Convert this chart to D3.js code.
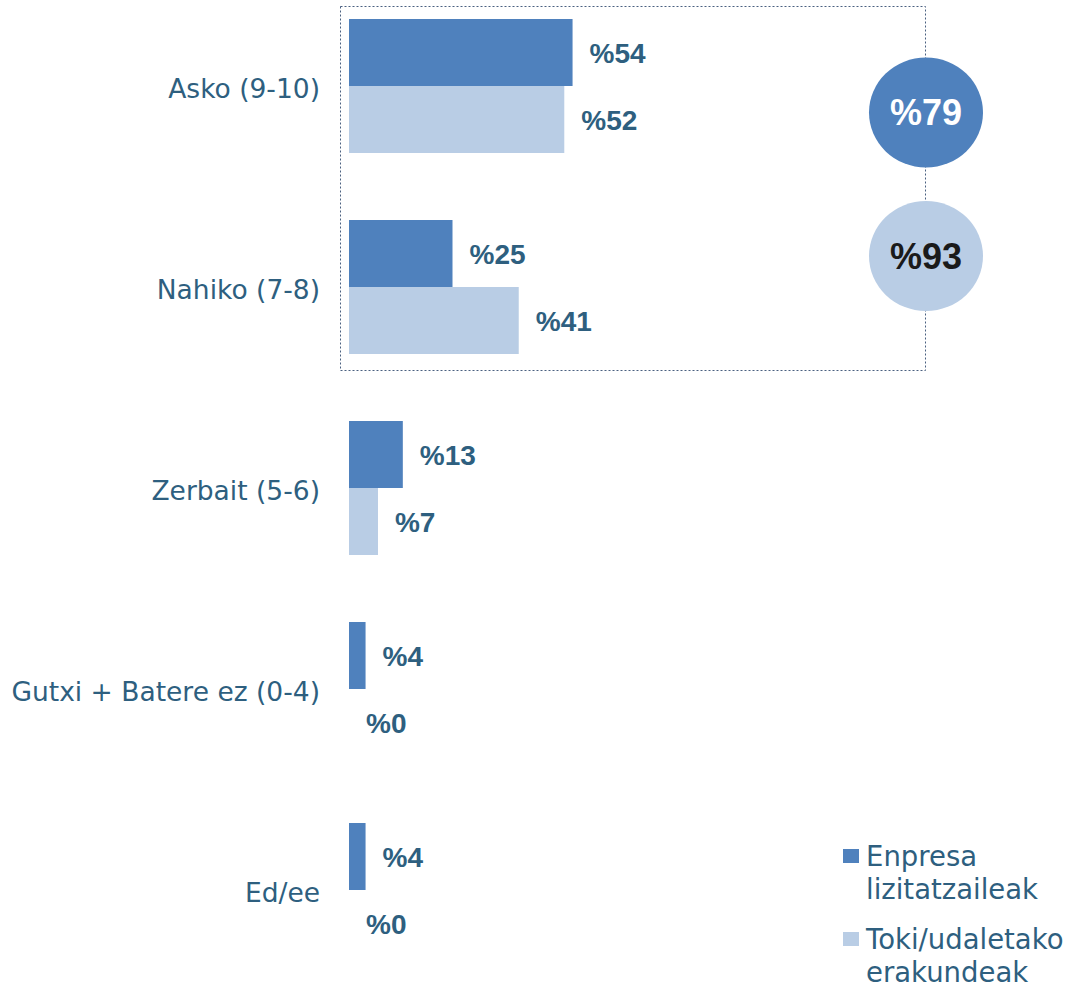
<!DOCTYPE html>
<html>
<head>
<meta charset="utf-8">
<script src="https://cdn.jsdelivr.net/npm/d3@7"></script>
<style>
  html, body { margin: 0; padding: 0; background: #ffffff; }
  svg { display: block; }
</style>
</head>
<body>
<svg id="chart" width="1082" height="991"></svg>
<script>
// Satisfaction categories and the two respondent groups
const categories = ["Asko (9-10)", "Nahiko (7-8)", "Zerbait (5-6)", "Gutxi + Batere ez (0-4)", "Ed/ee"];
const series = ["Enpresa lizitatzaileak", "Toki/udaletako erakundeak"];
const legendLines = [["Enpresa", "lizitatzaileak"], ["Toki/udaletako", "erakundeak"]];
const enpresaValues = [54, 25, 13, 4, 4];
const tokiValues = [52, 41, 7, 0, 0];
// Combined share "Asko + Nahiko" per group
const totals = [79, 93];

const colors = ["#4f81bd", "#b9cde5"];
const textColor = "#2e5f7f";

const svg = d3.select("#chart");

const x = d3.scaleLinear().domain([0, 100]).range([349, 349 + 414]);
const y = d3.scaleBand().domain(categories).range([-14.5, -14.5 + 201 * categories.length]).padding(0);
const inner = d3.scaleBand().domain(series).range([0, 134]);
const yOff = (y.bandwidth() - 134) / 2;

const data = categories.map((c, i) => ({ cat: c, values: [enpresaValues[i], tokiValues[i]] }));

// Dotted frame around the two top categories
const boxTop = 6, boxBottom = 370, boxLeft = 340, boxRight = 925;
svg.append("rect")
  .attr("x", boxLeft + 0.5).attr("y", boxTop + 0.5)
  .attr("width", boxRight - boxLeft).attr("height", boxBottom - boxTop)
  .attr("fill", "none").attr("stroke", "#4a6080").attr("stroke-width", 1)
  .attr("stroke-dasharray", "2,2");

// Bars
const groups = svg.append("g").selectAll("g").data(data).join("g")
  .attr("transform", d => `translate(0,${y(d.cat) + yOff})`);

groups.selectAll("rect").data(d => d.values.map((v, j) => ({ v, s: series[j], j })))
  .join("rect")
  .attr("x", x(0))
  .attr("y", d => inner(d.s))
  .attr("width", d => x(d.v) - x(0))
  .attr("height", inner.bandwidth())
  .attr("fill", d => colors[d.j]);

// Value labels
groups.selectAll("text").data(d => d.values.map((v, j) => ({ v, s: series[j], j })))
  .join("text")
  .attr("x", d => x(d.v) + 17)
  .attr("y", d => inner(d.s) + inner.bandwidth() / 2)
  .attr("dy", "0.36em")
  .attr("font-family", "'Liberation Sans', Arial, sans-serif")
  .attr("font-weight", "bold")
  .attr("font-size", 28)
  .attr("fill", textColor)
  .text(d => "%" + d.v);

// Category labels
svg.append("g").selectAll("text").data(categories).join("text")
  .attr("x", 320)
  .attr("y", d => y(d) + y.bandwidth() / 2 + 2)
  .attr("dy", "0.36em")
  .attr("text-anchor", "end")
  .attr("font-family", "'DejaVu Sans', sans-serif")
  .attr("font-size", 26.5)
  .attr("fill", textColor)
  .text(d => d);

// Total bubbles on the frame's right edge
const bubbleY = [112.5, 256];
const bubbles = svg.append("g").selectAll("g").data(totals).join("g")
  .attr("transform", (d, i) => `translate(${boxRight + 1},${bubbleY[i]})`);
bubbles.append("ellipse")
  .attr("rx", 57).attr("ry", 55)
  .attr("fill", (d, i) => colors[i]);
bubbles.append("text")
  .attr("text-anchor", "middle")
  .attr("dy", "0.36em")
  .attr("font-family", "'Liberation Sans', Arial, sans-serif")
  .attr("font-weight", "bold")
  .attr("font-size", 36)
  .attr("fill", (d, i) => i === 0 ? "#ffffff" : "#1a1a1a")
  .text(d => "%" + d);

// Legend
const legend = svg.append("g").selectAll("g").data(series).join("g")
  .attr("transform", (d, i) => `translate(843,${849 + i * 83})`);
legend.append("rect")
  .attr("width", 16).attr("height", 14)
  .attr("fill", (d, i) => colors[i]);
legend.each(function (d, i) {
  const t = d3.select(this).append("text")
    .attr("font-family", "'DejaVu Sans', sans-serif")
    .attr("font-size", 27.5)
    .attr("fill", textColor);
  legendLines[i].forEach((line, k) => {
    t.append("tspan").attr("x", 23).attr("y", 7 + k * 33).attr("dy", "0.36em").text(line);
  });
});
</script>
</body>
</html>
